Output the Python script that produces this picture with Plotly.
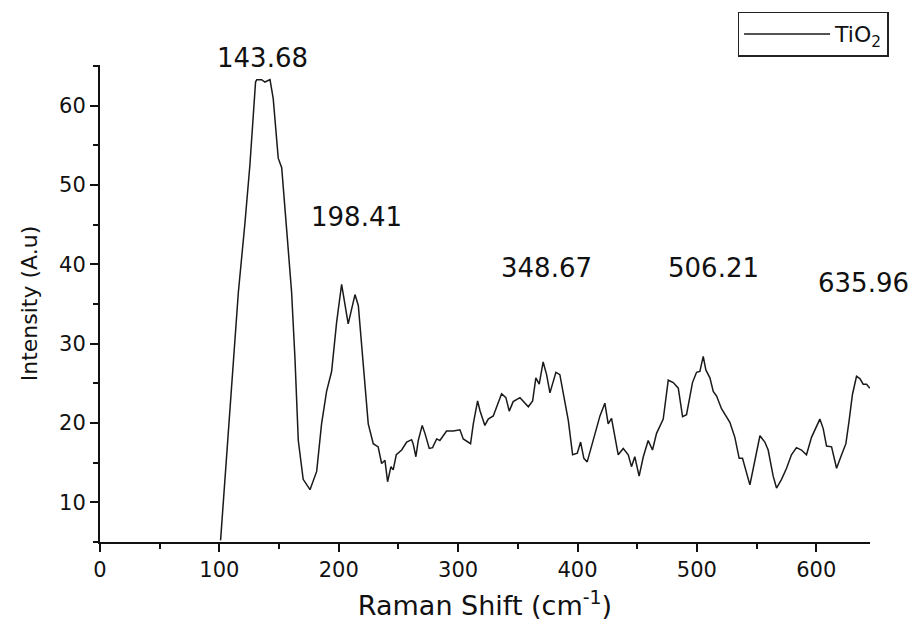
import plotly.graph_objects as go

# Raman spectrum of TiO2
raman_shift = [
    101.0, 104.7, 108.8, 112.6, 115.9, 121.4, 125.6, 130.3, 131.3, 135.4,
    138.2, 142.4, 145.1, 149.3, 152.2, 156.4, 160.5, 163.3, 166.1, 170.2,
    175.9, 181.5, 185.6, 189.8, 194.0, 198.2, 202.4, 207.9, 213.6, 216.4,
    220.5, 224.7, 228.9, 233.0, 235.9, 238.7, 240.9, 243.7, 245.6, 248.2,
    252.7, 256.9, 261.0, 262.3, 264.6, 266.6, 269.9, 272.2, 275.8, 278.6,
    282.0, 284.7, 290.3, 295.9, 301.5, 304.3, 310.4, 312.7, 316.3, 318.3,
    322.4, 325.2, 329.4, 332.3, 336.4, 340.0, 342.8, 346.1, 351.8, 358.8,
    362.4, 365.1, 367.9, 371.2, 374.1, 376.9, 381.9, 385.2, 389.4, 392.3,
    395.9, 399.8, 402.6, 405.3, 408.1, 413.2, 418.8, 422.9, 425.7, 428.5,
    434.1, 438.3, 442.5, 445.2, 448.0, 451.6, 455.1, 459.2, 462.8, 466.2,
    471.8, 476.0, 480.2, 484.4, 488.0, 491.3, 496.3, 499.7, 502.5, 505.3,
    507.5, 510.9, 513.7, 516.5, 520.6, 527.6, 531.8, 535.4, 538.2, 544.4,
    548.6, 552.8, 556.9, 559.7, 563.9, 566.7, 570.9, 575.1, 579.2, 583.4,
    587.6, 591.8, 596.0, 600.2, 603.0, 605.8, 608.6, 612.8, 617.0, 621.2,
    624.8, 627.5, 630.3, 633.7, 636.5, 639.3, 642.1, 644.9,
]
intensity = [
    5.2, 13.3, 22.0, 30.2, 36.5, 45.2, 52.6, 63.0, 63.3, 63.3,
    63.0, 63.3, 60.9, 53.4, 52.2, 44.3, 36.5, 28.2, 17.8, 12.9,
    11.6, 13.9, 19.9, 24.0, 26.5, 32.7, 37.5, 32.5, 36.2, 34.8,
    26.9, 19.9, 17.4, 17.0, 14.9, 15.3, 12.6, 14.5, 14.1, 16.0,
    16.6, 17.6, 17.9, 17.4, 15.75, 17.8, 19.7, 18.7, 16.8, 16.9,
    18.0, 17.8, 19.0, 19.0, 19.15, 18.0, 17.4, 19.9, 22.8, 21.55,
    19.7, 20.5, 20.9, 22.0, 23.7, 23.2, 21.5, 22.7, 23.2, 22.05,
    22.8, 25.7, 24.9, 27.7, 26.1, 23.8, 26.4, 26.1, 22.8, 20.3,
    16.0, 16.2, 17.6, 15.55, 15.1, 17.8, 20.9, 22.5, 19.9, 20.6,
    16.0, 16.8, 16.0, 14.5, 15.75, 13.3, 15.75, 17.8, 16.6, 18.7,
    20.5, 25.4, 25.1, 24.4, 20.8, 21.05, 25.1, 26.4, 26.5, 28.4,
    26.7, 25.7, 24.0, 23.4, 21.8, 20.1, 18.2, 15.55, 15.55, 12.2,
    15.1, 18.4, 17.6, 16.6, 13.3, 11.8, 12.9, 14.3, 16.0, 16.9,
    16.6, 16.0, 18.2, 19.5, 20.5, 19.3, 17.1, 17.0, 14.3, 16.0,
    17.4, 20.3, 23.6, 25.9, 25.6, 24.9, 24.9, 24.4,
]

# Peak labels: text, and where the label sits (data coords)
peak_labels = ["143.68", "198.41", "348.67", "506.21", "635.96"]
peak_label_x = [136.5, 215.2, 374.4, 513.6, 639.9]
peak_label_y = [66.0, 46.0, 39.6, 39.5, 37.6]

x_ticks = [0, 100, 200, 300, 400, 500, 600]
y_ticks = [10, 20, 30, 40, 50, 60]
x_range = [0, 645]
y_range = [5, 65.15]

FONT = "DejaVu Sans, Arial, sans-serif"
INK = "#111111"

fig = go.Figure()
fig.add_trace(go.Scatter(
    x=raman_shift, y=intensity, mode="lines", name="TiO<sub>2</sub>",
    line=dict(color="#1a1a1a", width=1.5),
))

# y placed in paper units (derived from the data y) so labels above the
# axis top are not hidden
for t, xx, yy in zip(peak_labels, peak_label_x, peak_label_y):
    yp = (yy - y_range[0]) / (y_range[1] - y_range[0])
    fig.add_annotation(x=xx, y=yp, xref="x", yref="paper", text=t, showarrow=False,
                       font=dict(family=FONT, size=26, color=INK),
                       xanchor="center", yanchor="middle")

axis_common = dict(
    ticks="outside", ticklen=8, tickwidth=2, tickcolor=INK,
    showline=True, linecolor=INK, linewidth=2, mirror=False,
    showgrid=False, zeroline=False, automargin=False,
    tickfont=dict(family=FONT, size=21, color=INK),
)

fig.update_layout(
    width=921, height=623,
    margin=dict(l=100, r=51, t=58, b=81),
    paper_bgcolor="white", plot_bgcolor="white",
    font=dict(family=FONT, color=INK),
    showlegend=True,
    legend=dict(x=0.828, y=1.112, xanchor="left", yanchor="top",
                bordercolor="#222222", borderwidth=1.5, bgcolor="white",
                font=dict(family=FONT, size=22, color=INK),
                itemwidth=86, tracegroupgap=0),
    xaxis=dict(
        range=x_range, tickmode="array", tickvals=x_ticks,
        minor=dict(dtick=50, tick0=0, ticks="outside", ticklen=5, tickwidth=2,
                   tickcolor=INK, showgrid=False),
        title=dict(text="Raman Shift (cm<sup>-1</sup>)", standoff=15,
                   font=dict(family=FONT, size=27, color=INK)),
        **axis_common,
    ),
    yaxis=dict(
        range=y_range, tickmode="array", tickvals=y_ticks,
        minor=dict(dtick=5, tick0=0, ticks="outside", ticklen=5, tickwidth=2,
                   tickcolor=INK, showgrid=False),
        title=dict(text="Intensity (A.u)", standoff=15,
                   font=dict(family=FONT, size=22, color=INK)),
        **axis_common,
    ),
)

fig.write_html("out.html")
